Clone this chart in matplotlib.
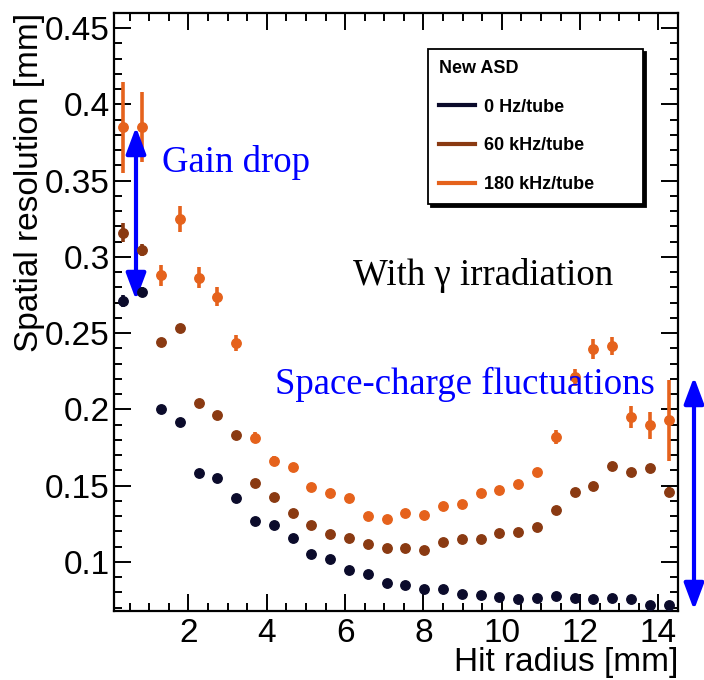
import matplotlib.pyplot as plt
from matplotlib.lines import Line2D
from matplotlib.ticker import MultipleLocator

# hit radius bin centres [mm]
radius = [0.34, 0.82, 1.30, 1.78, 2.26, 2.74, 3.22, 3.70, 4.18, 4.66,
          5.14, 5.62, 6.10, 6.58, 7.06, 7.54, 8.02, 8.50, 8.98, 9.46,
          9.94, 10.42, 10.90, 11.38, 11.86, 12.34, 12.82, 13.30, 13.78, 14.26]

# spatial resolution [mm] per background rate
res_0hz = [0.271, 0.277, 0.200, 0.192, 0.158, 0.155, 0.142, 0.127, 0.124, 0.116,
           0.105, 0.102, 0.095, 0.092, 0.086, 0.085, 0.082, 0.082, 0.079, 0.078,
           0.077, 0.0755, 0.0765, 0.0775, 0.0765, 0.0755, 0.076, 0.0755, 0.072, 0.0715]
err_0hz = [0.004, 0.003, 0.002, 0.002, 0.002, 0.002, 0.002, 0.002, 0.002, 0.002,
           0.002, 0.002, 0.002, 0.002, 0.002, 0.002, 0.002, 0.002, 0.002, 0.002,
           0.002, 0.002, 0.002, 0.002, 0.002, 0.002, 0.002, 0.002, 0.002, 0.002]

res_60k = [0.316, 0.3045, 0.244, 0.2535, 0.204, 0.1965, 0.1835, 0.152, 0.1425, 0.132,
           0.124, 0.118, 0.116, 0.112, 0.109, 0.109, 0.108, 0.113, 0.115, 0.115,
           0.119, 0.1195, 0.123, 0.134, 0.146, 0.150, 0.163, 0.159, 0.1615, 0.146]
err_60k = [0.0065, 0.004, 0.002, 0.002, 0.002, 0.002, 0.002, 0.002, 0.002, 0.002,
           0.002, 0.002, 0.002, 0.002, 0.002, 0.002, 0.002, 0.002, 0.002, 0.002,
           0.002, 0.002, 0.002, 0.002, 0.002, 0.002, 0.002, 0.002, 0.002, 0.003]

res_180k = [0.385, 0.385, 0.288, 0.325, 0.2865, 0.274, 0.2435, 0.1815, 0.1665, 0.162,
            0.149, 0.145, 0.142, 0.130, 0.128, 0.132, 0.1305, 0.1365, 0.138, 0.145,
            0.147, 0.151, 0.159, 0.182, 0.221, 0.2395, 0.2415, 0.195, 0.1895, 0.193]
err_180k = [0.030, 0.023, 0.007, 0.0085, 0.007, 0.006, 0.0055, 0.0035, 0.003, 0.003,
            0.0025, 0.0025, 0.0025, 0.002, 0.002, 0.002, 0.002, 0.002, 0.002, 0.002,
            0.002, 0.0025, 0.0025, 0.0045, 0.0055, 0.0065, 0.006, 0.0075, 0.0088, 0.0265]

labels = ["0 Hz/tube", "60 kHz/tube", "180 kHz/tube"]
colors = ["#0b0b2b", "#8a3a12", "#e5621c"]

y_ticks = [0.1, 0.15, 0.2, 0.25, 0.3, 0.35, 0.4, 0.45]
y_ticklabels = ["0.1", "0.15", "0.2", "0.25", "0.3", "0.35", "0.4", "0.45"]
x_ticks = [2, 4, 6, 8, 10, 12, 14]

sans = "Liberation Sans"
serif = "Liberation Serif"

fig = plt.figure(figsize=(7.04, 6.8), dpi=100)
ax = fig.add_axes([114/704, 69/680, 564/704, 598/680])

series = [(res_0hz, err_0hz), (res_60k, err_60k), (res_180k, err_180k)]
for (res, err), c in zip(series, colors):
    ax.errorbar(radius, res, yerr=err, fmt="o", ms=6.8, color=c,
                elinewidth=2.6, capsize=0, zorder=3)

ax.set_xlim(0.1, 14.5)
ax.set_ylim(0.0678, 0.46)

ax.set_xticks(x_ticks)
ax.set_xticklabels([str(t) for t in x_ticks], fontfamily=sans)
ax.xaxis.set_minor_locator(MultipleLocator(0.5))
ax.set_yticks(y_ticks)
ax.set_yticklabels(y_ticklabels, fontfamily=sans)
ax.yaxis.set_minor_locator(MultipleLocator(0.01))

ax.tick_params(which="both", direction="in", top=True, right=True, width=1.4,
               labelsize=24)
ax.tick_params(which="major", length=12)
ax.tick_params(which="minor", length=5.5)
ax.tick_params(axis="y", which="major", pad=3)
ax.tick_params(axis="x", which="major", pad=5)
for s in ax.spines.values():
    s.set_linewidth(1.6)

ax.set_xlabel("Hit radius [mm]", fontsize=24, fontfamily=sans, loc="right")
ax.xaxis.set_label_coords(1.0, -0.061)
ax.set_ylabel("Spatial resolution [mm]", fontsize=24, fontfamily=sans, loc="top")
ax.yaxis.set_label_coords(-0.122, 1.0)

# legend
handles = [Line2D([], [], color=c, lw=3) for c in colors]
leg = ax.legend(handles, labels, title="New ASD", loc="upper left",
                bbox_to_anchor=(0.557, 0.69, 0.381, 0.25), mode="expand",
                prop={"family": sans, "weight": "bold", "size": 13},
                title_fontproperties={"family": sans, "weight": "bold", "size": 13},
                alignment="left", fancybox=False, framealpha=1,
                edgecolor="black", borderpad=0.62, labelspacing=1.2,
                handlelength=2.0, handletextpad=0.5, borderaxespad=0,
                shadow={"color": "black", "alpha": 1})
leg.get_frame().set_linewidth(1.3)

# annotations
arrow = dict(arrowstyle="<|-|>,head_length=1.6,head_width=0.6", color="blue",
             lw=3, mutation_scale=10, shrinkA=0, shrinkB=0)
ax.annotate("", xy=(136/704, 1 - 127/680), xytext=(136/704, 1 - 300/680),
            xycoords="figure fraction", textcoords="figure fraction",
            arrowprops=arrow)
ax.annotate("", xy=(694/704, 1 - 377/680), xytext=(694/704, 1 - 610/680),
            xycoords="figure fraction", textcoords="figure fraction",
            arrowprops=arrow, annotation_clip=False)

fig.text(162/704, 1 - 172/680, "Gain drop", color="blue", fontsize=26.5,
         fontfamily=serif, va="baseline", zorder=5)
fig.text(353/704, 1 - 285/680, "With \u03b3 irradiation", color="black",
         fontsize=26.5, fontfamily=serif, va="baseline", zorder=5)
fig.text(275/704, 1 - 394/680, "Space-charge fluctuations", color="blue",
         fontsize=26.5, fontfamily=serif, va="baseline", zorder=5)

plt.savefig("out.png", dpi=100)
